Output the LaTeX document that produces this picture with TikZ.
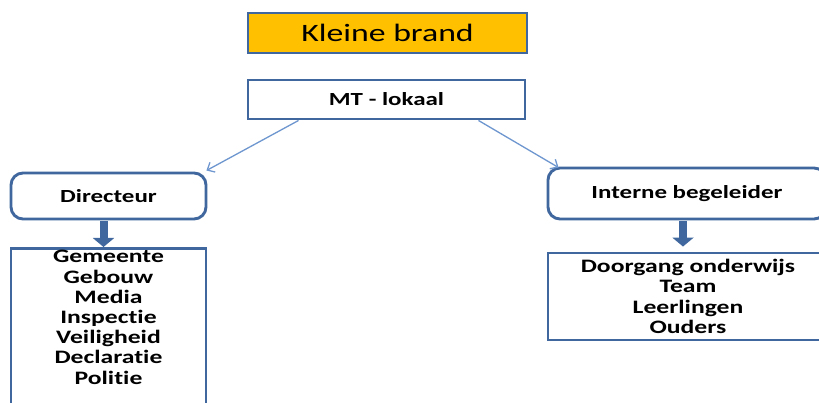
\documentclass[tikz,border=0pt]{standalone}
\usepackage{fontspec}
\setmainfont{Carlito}[FakeStretch=1.35,Ligatures={NoCommon}]
\usetikzlibrary{arrows.meta,calc}
\definecolor{bordblue}{HTML}{41689E}
\definecolor{arrblue}{HTML}{6E97CF}
\definecolor{brandorange}{HTML}{FFC000}
\tikzset{
  box/.style={draw=bordblue, line width=2.9pt, fill=white, inner sep=0pt},
  rbox/.style={box, rounded corners=12pt},
  thinarrow/.style={draw=arrblue, line width=1.3pt, -{Straight Barb[length=6pt,width=11pt,line width=1.3pt]}},
  blockarrow/.style={draw=bordblue, line width=8pt, -{Triangle[length=9pt,width=21pt]}},
  lbl/.style={font=\bfseries\fontsize{18.5}{20}\selectfont}
}
\begin{document}
\begin{tikzpicture}[x=1pt,y=-1pt]
\clip (0,0) rectangle (819,403);
\fill[white] (0,0) rectangle (819,403);
\node[box, fill=brandorange, minimum width=279pt, minimum height=40pt, font=\fontsize{25}{28}\selectfont] (brand) at (387.5,33) {Kleine brand};
\node[box, minimum width=277pt, minimum height=39pt, lbl] (mt) at (386.5,99.5) {MT - lokaal};
\node[rbox, minimum width=195pt, minimum height=46pt, lbl] (dir) at (108.5,196) {Directeur};
\node[rbox, minimum width=278pt, minimum height=51pt, lbl] (ib) at (687,193.5) {Interne begeleider};
\node[box, anchor=north, minimum width=195pt, minimum height=175pt] (lst1) at (108.5,247)
  {\parbox[t][172pt][t]{195pt}{\centering\bfseries\fontsize{19}{20.2}\selectfont\vspace*{0.5pt}Gemeente\\Gebouw\\Media\\Inspectie\\Veiligheid\\Declaratie\\Politie\par}};
\node[box, minimum width=280pt, minimum height=87pt, align=center, font=\bfseries\fontsize{19}{20.2}\selectfont] (lst2) at (688,296.5)
  {Doorgang onderwijs\\Team\\Leerlingen\\Ouders};
\draw[thinarrow] ($(mt.south west)+(52,0)$) -- ($(dir.north east)+(-1,-1)$);
\draw[thinarrow] ($(mt.south east)+(-48,0)$) -- ($(ib.north west)+(12,1)$);
\draw[blockarrow] ($(dir.south)+(-5,1)$) -- ($(lst1.north)+(-5,0)$);
\draw[blockarrow] ($(ib.south)+(-4,1)$) -- ($(lst2.north)+(-5,-5)$);
\end{tikzpicture}
\end{document}
